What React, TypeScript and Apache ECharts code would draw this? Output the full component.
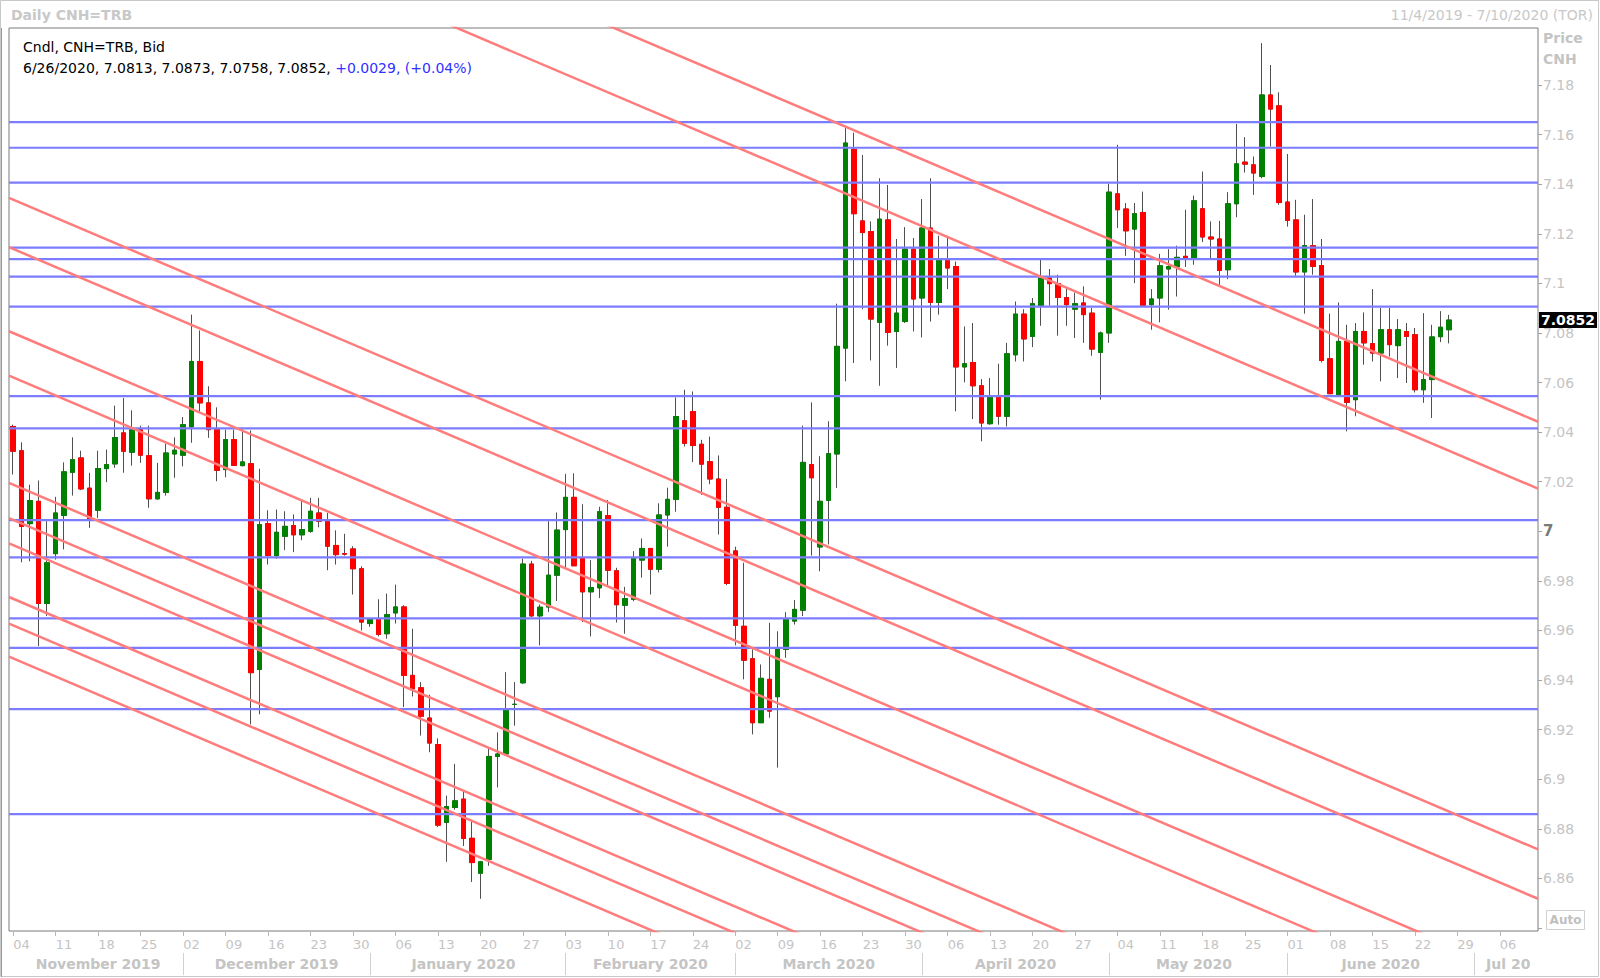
import React, { useEffect, useRef } from "react";
import * as echarts from "echarts";

const FONT = '"DejaVu Sans", Verdana, sans-serif';

const firstDay = "2019-11-04";
const lastDay = "2020-07-10";

const monthNames = [
  "November 2019", "December 2019", "January 2020", "February 2020", "March 2020",
  "April 2020", "May 2020", "June 2020", "Jul 20",
];

const yTickValues = [6.84, 6.86, 6.88, 6.9, 6.92, 6.94, 6.96, 6.98, 7, 7.02, 7.04, 7.06, 7.08, 7.1, 7.12, 7.14, 7.16, 7.18];
const yLabelValues = [6.86, 6.88, 6.9, 6.92, 6.94, 6.96, 6.98, 7, 7.02, 7.04, 7.06, 7.08, 7.1, 7.12, 7.14, 7.16, 7.18];
const yMin = 6.8388;
const yMax = 7.203;

const opens = [
  7.0423, 7.0325, 7.0031, 7.0121, 6.9709, 6.9910, 7.0064, 7.0238, 7.0296, 7.0174,
  7.0085, 7.0253, 7.0272, 7.0397, 7.0319, 7.0410, 7.0305, 7.0131, 7.0157, 7.0312,
  7.0307, 7.0421, 7.0685, 7.0518, 7.0410, 7.0249, 7.0370, 7.0265, 7.0273, 6.9443,
  7.0031, 6.9902, 6.9980, 7.0023, 6.9986, 7.0000, 7.0074, 7.0041, 6.9943, 6.9910,
  6.9929, 6.9849, 6.9628, 6.9645, 6.9587, 6.9671, 6.9695, 6.9419, 6.9369, 6.9247,
  6.9140, 6.8826, 6.8886, 6.8920, 6.8762, 6.8621, 6.8677, 6.9092, 6.9102, 6.9302,
  6.9389, 6.9868, 6.9659, 6.9695, 6.9823, 7.0007, 7.0137, 6.9893, 6.9756, 6.9772,
  7.0063, 6.9841, 6.9702, 6.9726, 6.9884, 6.9931, 6.9847, 7.0066, 7.0129, 7.0446,
  7.0483, 7.0351, 7.0281, 7.0211, 7.0097, 6.9921, 6.9617, 6.9486, 6.9228, 6.9403,
  6.9333, 6.9524, 6.9638, 6.9682, 7.0269, 6.9937, 7.0125, 7.0312, 7.0739, 7.1541,
  7.1252, 7.1209, 7.0843, 7.1256, 7.0806, 7.0846, 7.1138, 7.0941, 7.1223, 7.0923,
  7.1092, 7.1068, 7.0663, 7.0681, 7.0587, 7.0434, 7.0542, 7.0464, 7.0712, 7.0876,
  7.0786, 7.0910, 7.1022, 7.0999, 7.0943, 7.0896, 7.0921, 7.0880, 7.0722, 7.0800,
  7.1361, 7.1300, 7.1219, 7.1286, 7.0914, 7.0941, 7.1058, 7.1066, 7.1109, 7.1102,
  7.1301, 7.1187, 7.1179, 7.1055, 7.1321, 7.1489, 7.1478, 7.1431, 7.1760, 7.1716,
  7.1328, 7.1256, 7.1046, 7.1152, 7.1072, 7.0696, 7.0551, 7.0766, 7.0531, 7.0806,
  7.0757, 7.0719, 7.0813, 7.0749, 7.0806, 7.0793, 7.0571, 7.0612, 7.0785, 7.0813,
];

const closes = [
  7.0323, 7.0020, 7.0124, 6.9709, 6.9873, 7.0074, 7.0240, 7.0289, 7.0171, 7.0051,
  7.0253, 7.0269, 7.0378, 7.0323, 7.0410, 7.0307, 7.0131, 7.0157, 7.0316, 7.0327,
  7.0430, 7.0685, 7.0518, 7.0410, 7.0246, 7.0370, 7.0266, 7.0280, 6.9430, 7.0027,
  6.9902, 6.9996, 7.0020, 6.9986, 7.0007, 7.0081, 7.0041, 6.9940, 6.9906, 6.9908,
  6.9849, 6.9634, 6.9644, 6.9584, 6.9664, 6.9695, 6.9419, 6.9365, 6.9254, 6.9146,
  6.8815, 6.8890, 6.8913, 6.8761, 6.8664, 6.8667, 6.9092, 6.9102, 6.9284, 6.9302,
  6.9868, 6.9659, 6.9694, 6.9823, 7.0005, 7.0137, 6.9861, 6.9756, 6.9773, 7.0079,
  6.9843, 6.9704, 6.9729, 6.9893, 6.9931, 6.9847, 7.0066, 7.0129, 7.0463, 7.0355,
  7.0346, 7.0271, 7.0211, 7.0097, 6.9790, 6.9621, 6.9480, 6.9228, 6.9407, 6.9275,
  6.9528, 6.9647, 6.9685, 7.0278, 7.0216, 7.0121, 7.0313, 7.0746, 7.1566, 7.1281,
  7.1205, 7.0856, 7.1259, 7.0802, 7.0880, 7.1138, 7.0937, 7.1223, 7.0923, 7.1092,
  7.1062, 7.0663, 7.0676, 7.0587, 7.0437, 7.0542, 7.0464, 7.0716, 7.0876, 7.0776,
  7.0918, 7.1022, 7.0999, 7.0943, 7.0914, 7.0918, 7.0874, 7.0735, 7.0800, 7.1368,
  7.1297, 7.1212, 7.1281, 7.0910, 7.0937, 7.1071, 7.1068, 7.1105, 7.1100, 7.1333,
  7.1187, 7.1179, 7.1052, 7.1321, 7.1482, 7.1481, 7.1445, 7.1760, 7.1703, 7.1326,
  7.1254, 7.1046, 7.1152, 7.1068, 7.0689, 7.0555, 7.0766, 7.0520, 7.0806, 7.0760,
  7.0719, 7.0813, 7.0753, 7.0813, 7.0786, 7.0571, 7.0612, 7.0784, 7.0823, 7.0852,
];

const highs = [
  7.0430, 7.0359, 7.0188, 7.0205, 7.0041, 7.0139, 7.0278, 7.0379, 7.0325, 7.0236,
  7.0325, 7.0330, 7.0507, 7.0538, 7.0488, 7.0426, 7.0426, 7.0276, 7.0354, 7.0379,
  7.0461, 7.0874, 7.0810, 7.0585, 7.0500, 7.0410, 7.0410, 7.0410, 7.0407, 7.0252,
  7.0085, 7.0088, 7.0081, 7.0068, 7.0128, 7.0135, 7.0135, 7.0074, 7.0004, 6.9990,
  6.9940, 6.9859, 6.9648, 6.9726, 6.9749, 6.9785, 6.9702, 6.9607, 6.9392, 6.9341,
  6.9165, 6.8934, 6.9062, 6.8954, 6.8828, 6.8671, 6.9129, 6.9189, 6.9432, 6.9392,
  6.9890, 6.9881, 6.9705, 7.0041, 7.0076, 7.0232, 7.0234, 7.0109, 6.9884, 7.0099,
  7.0126, 6.9853, 6.9776, 6.9920, 6.9971, 6.9931, 7.0113, 7.0176, 7.0540, 7.0571,
  7.0564, 7.0369, 7.0382, 7.0306, 7.0211, 6.9938, 6.9873, 6.9524, 6.9463, 6.9631,
  6.9597, 6.9674, 6.9723, 7.0426, 7.0520, 7.0303, 7.0444, 7.0918, 7.1626, 7.1608,
  7.1518, 7.1250, 7.1424, 7.1397, 7.1179, 7.1227, 7.1183, 7.1340, 7.1424, 7.1192,
  7.1192, 7.1088, 7.0826, 7.0840, 7.0614, 7.0618, 7.0676, 7.0760, 7.0927, 7.0896,
  7.0941, 7.1095, 7.1058, 7.1035, 7.0981, 7.0963, 7.0988, 7.0901, 7.0806, 7.1402,
  7.1559, 7.1324, 7.1324, 7.1370, 7.0977, 7.1119, 7.1138, 7.1152, 7.1297, 7.1354,
  7.1451, 7.1250, 7.1252, 7.1368, 7.1643, 7.1590, 7.1512, 7.1969, 7.1881, 7.1771,
  7.1522, 7.1337, 7.1277, 7.1340, 7.1179, 7.0878, 7.0923, 7.0833, 7.0840, 7.0883,
  7.0977, 7.0901, 7.0901, 7.0856, 7.0840, 7.0820, 7.0880, 7.0833, 7.0888, 7.0873,
];

const lows = [
  7.0229, 6.9875, 6.9879, 6.9537, 6.9658, 6.9886, 6.9927, 7.0144, 7.0166, 7.0014,
  7.0054, 7.0198, 7.0256, 7.0236, 7.0265, 7.0276, 7.0095, 7.0128, 7.0144, 7.0216,
  7.0262, 7.0357, 7.0477, 7.0377, 7.0202, 7.0218, 7.0266, 7.0262, 6.9221, 6.9262,
  6.9866, 6.9889, 6.9924, 6.9916, 6.9964, 6.9994, 7.0016, 6.9843, 6.9866, 6.9902,
  6.9745, 6.9600, 6.9615, 6.9576, 6.9567, 6.9628, 6.9291, 6.9334, 6.9176, 6.9109,
  6.8808, 6.8667, 6.8877, 6.8731, 6.8586, 6.8518, 6.8651, 6.8967, 6.9095, 6.9216,
  6.9385, 6.9655, 6.9540, 6.9675, 6.9719, 6.9853, 6.9861, 6.9634, 6.9576, 6.9731,
  6.9783, 6.9632, 6.9587, 6.9718, 6.9813, 6.9745, 6.9834, 6.9938, 7.0079, 7.0342,
  7.0279, 7.0147, 7.0190, 6.9987, 6.9783, 6.9540, 6.9403, 6.9181, 6.9248, 6.9248,
  6.9047, 6.9490, 6.9624, 6.9658, 6.9902, 6.9839, 6.9947, 7.0175, 7.0605, 7.0679,
  7.0896, 7.0689, 7.0587, 7.0749, 7.0659, 7.0840, 7.0806, 7.0782, 7.0846, 7.0874,
  7.0977, 7.0484, 7.0601, 7.0453, 7.0363, 7.0430, 7.0430, 7.0423, 7.0685, 7.0685,
  7.0743, 7.0829, 7.0910, 7.0789, 7.0829, 7.0780, 7.0760, 7.0708, 7.0531, 7.0760,
  7.1223, 7.1111, 7.1001, 7.0910, 7.0813, 7.0843, 7.0894, 7.0947, 7.1066, 7.1075,
  7.1167, 7.1102, 7.0994, 7.1017, 7.1267, 7.1447, 7.1357, 7.1424, 7.1552, 7.1317,
  7.1229, 7.1031, 7.0878, 7.1035, 7.0681, 7.0555, 7.0544, 7.0403, 7.0464, 7.0672,
  7.0685, 7.0605, 7.0705, 7.0618, 7.0598, 7.0560, 7.0518, 7.0457, 7.0763, 7.0758,
];

// horizontal support / resistance levels
const levels = [
  7.1650, 7.1547, 7.1406, 7.1144, 7.1098, 7.1027, 7.0906, 7.0545, 7.0415,
  7.0045, 6.9895, 6.9649, 6.9530, 6.9283, 6.8859,
];

// parallel down-trend lines: value at the left edge and at the right edge of the axis
const trendLeft = [7.3070, 7.2800, 7.1345, 7.1146, 7.0807, 7.0628, 7.0195, 7.0053, 6.9951, 6.9735, 6.9628, 6.9495];
const trendRight = [7.0442, 7.0172, 6.8717, 6.8518, 6.8179, 6.8000, 6.7567, 6.7425, 6.7323, 6.7107, 6.7000, 6.6867];

function buildWeekdays(a: string, b: string): string[] {
  const out: string[] = [];
  const d = new Date(a + "T00:00:00Z");
  const end = new Date(b + "T00:00:00Z");
  while (d.getTime() <= end.getTime()) {
    const wd = d.getUTCDay();
    if (wd !== 0 && wd !== 6) out.push(d.toISOString().slice(0, 10));
    d.setUTCDate(d.getUTCDate() + 1);
  }
  return out;
}

function usDate(s: string): string {
  const [y, m, d] = s.split("-").map(Number);
  return `${m}/${d}/${y}`;
}

export default function App() {
  const ref = useRef<HTMLDivElement>(null);

  useEffect(() => {
    if (!ref.current) return;
    const chart = echarts.init(ref.current, undefined, { renderer: "svg" });

    const categories = buildWeekdays(firstDay, lastDay);
    const isMonday = categories.map((c) => new Date(c + "T00:00:00Z").getUTCDay() === 1);

    // month groups
    const groups: { start: number; count: number }[] = [];
    categories.forEach((c, i) => {
      const m = c.slice(0, 7);
      if (i === 0 || m !== categories[i - 1].slice(0, 7)) groups.push({ start: i, count: 1 });
      else groups[groups.length - 1].count++;
    });
    const monthStarts = new Set(groups.slice(1).map((g) => g.start));
    const monthMid = new Map<number, string>();
    groups.forEach((g, k) => monthMid.set(g.start + Math.floor(g.count / 2), monthNames[k] || ""));

    const candleData = opens.map((o, i) => [o, closes[i], lows[i], highs[i]]);
    const bodyData = opens.map((o, i) => [o, closes[i], Math.min(o, closes[i]), Math.max(o, closes[i])]);

    const n = closes.length;
    const last = n - 1;
    const lastClose = closes[last];
    const change = lastClose - closes[last - 1];
    const pct = (change / closes[last - 1]) * 100;
    const sgn = (v: number) => (v >= 0 ? "+" : "");
    const headerA = `${usDate(categories[last])}, ${opens[last].toFixed(4)}, ${highs[last].toFixed(4)}, ${lows[last].toFixed(4)}, ${lastClose.toFixed(4)}, `;
    const headerB = `${sgn(change)}${change.toFixed(4)}, (${sgn(pct)}${pct.toFixed(2)}%)`;

    const xLo = -0.5;
    const xHi = categories.length - 0.5;

    const lineSeries: any[] = [];
    levels.forEach((v) => {
      lineSeries.push({
        type: "line",
        xAxisIndex: 2,
        data: [[xLo, v], [xHi, v]],
        symbol: "none",
        silent: true,
        clip: true,
        z: 4,
        lineStyle: { color: "#7c7cff", width: 2.2 },
      });
    });
    trendLeft.forEach((v, k) => {
      lineSeries.push({
        type: "line",
        xAxisIndex: 2,
        data: [[xLo, v], [xHi, trendRight[k]]],
        symbol: "none",
        silent: true,
        clip: true,
        z: 4,
        lineStyle: { color: "#ff7c7c", width: 2.5 },
      });
    });

    // last price marker on the price axis
    lineSeries.push({
      type: "line",
      xAxisIndex: 2,
      data: [[xLo, lastClose], [xHi, lastClose]],
      symbol: "none",
      silent: true,
      clip: false,
      z: 6,
      lineStyle: { color: "rgba(0,0,0,0)", width: 0 },
      endLabel: {
        show: true,
        distance: 1,
        formatter: () => lastClose.toFixed(4),
        color: "#ffffff",
        backgroundColor: "#000000",
        fontWeight: "bold",
        fontSize: 14,
        lineHeight: 14,
        fontFamily: FONT,
        padding: [1, 2, 1, 2],
        align: "left",
        verticalAlign: "middle",
      },
    });

    const option: any = {
      animation: false,
      backgroundColor: "#ffffff",
      grid: {
        left: 9,
        right: 62,
        top: 28,
        bottom: 47,
        show: true,
        borderColor: "#7a7a7a",
        borderWidth: 1,
        backgroundColor: "#ffffff",
      },
      xAxis: [
        {
          type: "category",
          data: categories,
          boundaryGap: true,
          position: "bottom",
          axisLine: { show: false, onZero: false },
          axisTick: {
            show: true,
            alignWithLabel: true,
            interval: (i: number) => isMonday[i],
            length: 5,
            lineStyle: { color: "#b8b8b8" },
          },
          axisLabel: {
            interval: (i: number) => isMonday[i],
            formatter: (v: string) => v.slice(8, 10),
            color: "#c4c4c4",
            fontSize: 13,
            fontFamily: FONT,
            align: "left",
            margin: 7,
          },
          splitLine: { show: false },
        },
        {
          type: "category",
          data: categories,
          boundaryGap: true,
          position: "bottom",
          offset: 22,
          axisLine: { show: false, onZero: false },
          axisTick: {
            show: true,
            alignWithLabel: true,
            interval: (i: number) => monthStarts.has(i),
            length: 22,
            lineStyle: { color: "#d0d0d0" },
          },
          axisLabel: {
            interval: (i: number) => monthMid.has(i),
            formatter: (_v: string, i: number) => monthMid.get(i) || "",
            color: "#c4c4c4",
            fontSize: 14,
            fontWeight: "bold",
            fontFamily: FONT,
            margin: 4,
          },
          splitLine: { show: false },
        },
        {
          type: "value",
          min: xLo,
          max: xHi,
          show: false,
          axisLine: { onZero: false },
        },
      ],
      yAxis: {
        type: "value",
        position: "right",
        min: yMin,
        max: yMax,
        axisLine: { show: false, onZero: false },
        splitLine: { show: false },
        axisTick: {
          show: true,
          inside: false,
          customValues: yTickValues,
          length: 4,
          lineStyle: { color: "#a0a0a0" },
        },
        axisLabel: {
          customValues: yLabelValues,
          margin: 5,
          color: "#c4c4c4",
          fontSize: 14,
          fontFamily: FONT,
          formatter: (v: number) => {
            const s = String(parseFloat(v.toFixed(2)));
            return Math.abs(v - 7) < 1e-9 ? `{b|${s}}` : s;
          },
          rich: {
            b: { fontWeight: "bold", color: "#7a7a7a", fontSize: 15, fontFamily: FONT },
          },
        },
      },
      series: [
        {
          type: "candlestick",
          xAxisIndex: 0,
          data: candleData,
          barWidth: 5,
          z: 2,
          silent: true,
          itemStyle: {
            color: "#008000",
            color0: "#ff0000",
            borderColor: "#505050",
            borderColor0: "#505050",
            borderWidth: 1,
          },
        },
        {
          type: "candlestick",
          xAxisIndex: 0,
          data: bodyData,
          barWidth: 5,
          z: 3,
          silent: true,
          itemStyle: {
            color: "#008000",
            color0: "#ff0000",
            borderColor: "#008000",
            borderColor0: "#ff0000",
            borderWidth: 1,
          },
        },
        ...lineSeries,
      ],
      graphic: [
        {
          type: "rect",
          z: 100,
          silent: true,
          shape: { x: 0.5, y: 0.5, width: 1598, height: 976 },
          style: { fill: "none", stroke: "#c8c8c8", lineWidth: 1 },
        },
        {
          type: "line",
          z: 100,
          silent: true,
          shape: { x1: 1.5, y1: 28, x2: 1.5, y2: 977 },
          style: { stroke: "#9a9a9a", lineWidth: 1 },
        },
        {
          type: "text",
          z: 100,
          x: 11,
          y: 15,
          style: {
            text: "Daily CNH=TRB",
            fill: "#c8c8c8",
            fontSize: 14,
            fontWeight: "bold",
            fontFamily: FONT,
            verticalAlign: "middle",
          },
        },
        {
          type: "text",
          z: 100,
          x: 1593,
          y: 15,
          style: {
            text: `${usDate(categories[0])} - ${usDate(categories[categories.length - 1])} (TOR)`,
            fill: "#c8c8c8",
            fontSize: 14,
            fontFamily: FONT,
            align: "right",
            verticalAlign: "middle",
          },
        },
        {
          type: "text",
          z: 100,
          x: 1543,
          y: 38,
          style: {
            text: "Price",
            fill: "#c4c4c4",
            fontSize: 14,
            fontWeight: "bold",
            fontFamily: FONT,
            verticalAlign: "middle",
          },
        },
        {
          type: "text",
          z: 100,
          x: 1543,
          y: 59,
          style: {
            text: "CNH",
            fill: "#c4c4c4",
            fontSize: 14,
            fontWeight: "bold",
            fontFamily: FONT,
            verticalAlign: "middle",
          },
        },
        {
          type: "text",
          z: 100,
          x: 23,
          y: 47,
          style: {
            text: "Cndl, CNH=TRB, Bid",
            fill: "#000000",
            fontSize: 14,
            fontFamily: FONT,
            verticalAlign: "middle",
          },
        },
        {
          type: "text",
          z: 100,
          x: 23,
          y: 68,
          style: {
            text: `{a|${headerA}}{b|${headerB}}`,
            verticalAlign: "middle",
            rich: {
              a: { fill: "#000000", color: "#000000", fontSize: 14, fontFamily: FONT },
              b: { fill: "#3030ff", color: "#3030ff", fontSize: 14, fontFamily: FONT },
            },
          },
        },
        {
          type: "rect",
          z: 100,
          silent: true,
          shape: { x: 1546.5, y: 910.5, width: 38, height: 19 },
          style: { fill: "#ffffff", stroke: "#d0d0d0", lineWidth: 1 },
        },
        {
          type: "text",
          z: 101,
          x: 1565.5,
          y: 920,
          style: {
            text: "Auto",
            fill: "#c0c0c0",
            fontSize: 12,
            fontWeight: "bold",
            fontFamily: FONT,
            align: "center",
            verticalAlign: "middle",
          },
        },
      ],
    };

    chart.setOption(option);
    return () => chart.dispose();
  }, []);

  return (
    <div
      ref={ref}
      style={{ position: "fixed", left: 0, top: 0, width: 1600, height: 978, background: "#fff" }}
    />
  );
}
